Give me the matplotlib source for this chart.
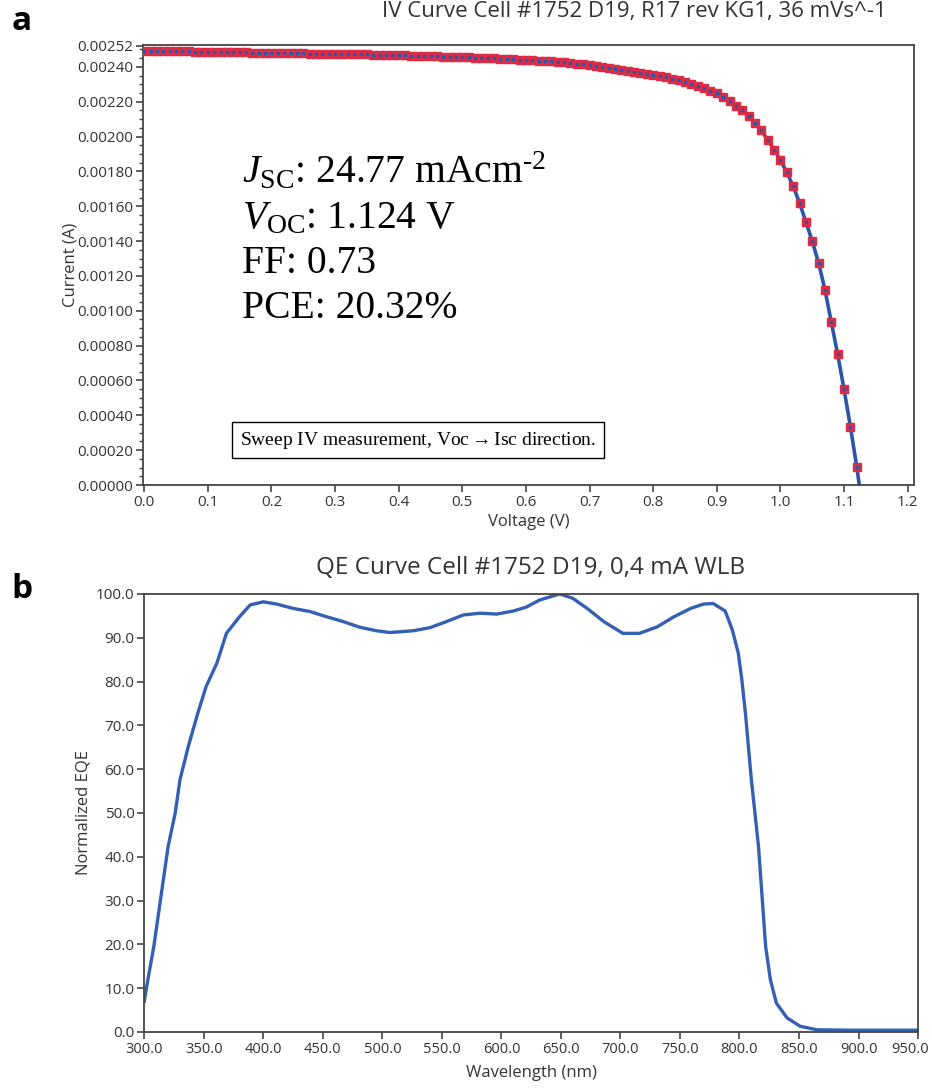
import numpy as np
import matplotlib
matplotlib.use("Agg")
import matplotlib.pyplot as plt
import matplotlib.transforms as mtransforms
from matplotlib.ticker import FixedLocator, MultipleLocator, FormatStrFormatter

# IV sweep, 0.01 V steps (A)
voltage = np.round(np.arange(0, 1.121, 0.01), 2)
current_mA = [
    2.490, 2.490, 2.490, 2.489, 2.489, 2.488, 2.488, 2.490, 2.487, 2.486,
    2.486, 2.485, 2.485, 2.484, 2.484, 2.483, 2.483, 2.482, 2.482, 2.481,
    2.481, 2.480, 2.480, 2.479, 2.477, 2.477, 2.476, 2.476, 2.475, 2.475,
    2.474, 2.473, 2.473, 2.472, 2.471, 2.471, 2.470, 2.469, 2.468, 2.467,
    2.466, 2.465, 2.464, 2.463, 2.462, 2.461, 2.460, 2.459, 2.458, 2.457,
    2.455, 2.454, 2.453, 2.452, 2.450, 2.449, 2.447, 2.446, 2.444, 2.442,
    2.440, 2.438, 2.436, 2.433, 2.431, 2.428, 2.425, 2.422, 2.418, 2.414,
    2.410, 2.405, 2.400, 2.395, 2.389, 2.383, 2.378, 2.372, 2.366, 2.360,
    2.353, 2.347, 2.340, 2.332, 2.323, 2.313, 2.302, 2.290, 2.277, 2.263,
    2.248, 2.228, 2.205, 2.178, 2.150, 2.115, 2.080, 2.035, 1.980, 1.925,
    1.865, 1.795, 1.715, 1.620, 1.510, 1.400, 1.275, 1.120, 0.935, 0.750,
    0.550, 0.335, 0.105,
]
current = np.array(current_mA) / 1000.0
voc = 1.124

# QE curve
wavelength = [300, 303, 308, 312, 316, 320, 326, 330, 337, 345, 352, 361, 369, 380,
              389, 400, 411, 425, 439, 453, 467, 481, 495, 506, 512, 526, 540, 554,
              568, 582, 596, 610, 621, 632, 649, 660, 672, 686, 702, 716, 731, 745,
              759, 770, 778, 788, 794, 799, 802, 805, 807.5, 810, 813, 816, 818, 820,
              822, 826, 831, 840, 851, 865, 893, 950]
eqe = [7.0, 11.9, 19.5, 27.1, 34.7, 42.3, 50.0, 57.6, 65.2, 72.8, 78.9, 84.2, 91.0, 94.8,
       97.5, 98.2, 97.7, 96.7, 96.0, 94.8, 93.7, 92.4, 91.6, 91.2, 91.3, 91.6, 92.3, 93.7,
       95.2, 95.6, 95.4, 96.1, 97.0, 98.6, 100.0, 99.0, 96.7, 93.7, 91.0, 91.0, 92.5, 94.8,
       96.7, 97.7, 97.8, 96.1, 91.8, 86.5, 80.4, 72.8, 65.2, 57.6, 50.0, 42.3, 34.7, 27.1,
       19.5, 11.9, 6.6, 3.2, 1.3, 0.5, 0.4, 0.4]

iv_ticks = [0.0, 0.0002, 0.0004, 0.0006, 0.0008, 0.0010, 0.0012, 0.0014, 0.0016,
            0.0018, 0.0020, 0.0022, 0.0024, 0.00252]

plt.rcParams['font.family'] = ['Open Sans', 'DejaVu Sans']
plt.rcParams['mathtext.fontset'] = 'custom'
plt.rcParams['mathtext.rm'] = 'Liberation Serif'
plt.rcParams['mathtext.it'] = 'Liberation Serif:italic'

fig = plt.figure(figsize=(9.32, 10.88), dpi=100)
ax1 = fig.add_axes([0.1534, 0.5542, 0.8273, 0.4044])
ax2 = fig.add_axes([0.1548, 0.0515, 0.8302, 0.4026])

line_blue = '#2b55a8'
tick_col = '#333333'

# ---- panel a
ax1.plot(list(voltage) + [voc], list(current) + [0.0], color=line_blue, lw=2.6, zorder=2)
ax1.plot(voltage, current, ls='none', marker='s', ms=5.8, mfc='#dc2c45', mec='#dc2c45', zorder=3)
ax1.plot(voltage, current, ls='none', marker='s', ms=1.6, mfc=line_blue, mec=line_blue, zorder=4)
ax1.set_xlim(-0.002, 1.21)
ax1.set_ylim(0, 0.002525)
ax1.xaxis.set_major_locator(MultipleLocator(0.1))
ax1.xaxis.set_major_formatter(FormatStrFormatter('%.1f'))
ax1.yaxis.set_major_locator(FixedLocator(iv_ticks))
ax1.yaxis.set_minor_locator(MultipleLocator(0.00005))
ax1.yaxis.set_major_formatter(FormatStrFormatter('%.5f'))
ax1.set_xlabel('Voltage (V)', fontsize=12, color=tick_col)
ax1.set_ylabel('Current (A)', fontsize=12, color=tick_col)
ax1.xaxis.set_label_coords(0.5, -0.066)
ax1.yaxis.set_label_coords(-0.083, 0.5)

tx = 0.128
big = dict(transform=ax1.transAxes, fontsize=28.5, family='Liberation Serif', va='baseline')
ax1.text(tx, 0.686, r'$J_{\mathrm{SC}}$: 24.77 mAcm$^{\text{-2}}$', **big)
ax1.text(tx, 0.584, r'$V_{\mathrm{OC}}$: 1.124 V', **big)
ax1.text(tx, 0.482, 'FF: 0.73', **big)
ax1.text(tx, 0.380, 'PCE: 20.32%', **big)
ax1.text(0.126, 0.102, r'Sweep IV measurement, Voc$\rightarrow$Isc direction.', transform=ax1.transAxes,
         fontsize=14, family=['Liberation Serif', 'DejaVu Serif'], va='center',
         bbox=dict(boxstyle='square,pad=0.4', fc='white', ec='black', lw=1.0))

# ---- panel b
ax2.plot(wavelength, eqe, color='#3460b4', lw=2.4)
ax2.set_xlim(300, 950)
ax2.set_ylim(0, 100)
ax2.xaxis.set_major_locator(MultipleLocator(50))
ax2.yaxis.set_major_locator(MultipleLocator(10))
ax2.xaxis.set_major_formatter(FormatStrFormatter('%.1f'))
ax2.yaxis.set_major_formatter(FormatStrFormatter('%.1f'))
ax2.set_xlabel('Wavelength (nm)', fontsize=12, color=tick_col)
ax2.set_ylabel('Normalized EQE', fontsize=12, color=tick_col)
ax2.xaxis.set_label_coords(0.5, -0.075)
ax2.yaxis.set_label_coords(-0.0676, 0.5)

for ax in (ax1, ax2):
    for s in ax.spines.values():
        s.set_color('#444444')
        s.set_linewidth(1.3)
    ax.tick_params(which='major', direction='out', length=5, width=1.2, color='#444444',
                   labelsize=11, labelcolor=tick_col, pad=2)
    ax.tick_params(which='minor', direction='out', length=3, width=1.0, color='#444444')
ax2.tick_params(axis='x', labelsize=10.5)

fig.text(0.681, 0.989, 'IV Curve Cell #1752 D19, R17 rev KG1, 36 mVs^-1', ha='center', va='center',
         fontsize=16, color=tick_col)
fig.text(0.569, 0.478, 'QE Curve Cell #1752 D19, 0,4 mA WLB', ha='center', va='center',
         fontsize=17.5, color=tick_col)
fig.text(0.0236, 0.980, 'a', ha='center', va='center', fontsize=24, fontweight='bold')
fig.text(0.0236, 0.458, 'b', ha='center', va='center', fontsize=24, fontweight='bold')

# nudge the last wavelength label so it stays inside the figure
fig.canvas.draw()
last = [t for t in ax2.xaxis.get_major_ticks() if abs(t.get_loc() - 950) < 1e-6][0]
shift = mtransforms.ScaledTranslation(-6 / 72, 0, fig.dpi_scale_trans)
last.label1.set_transform(last.label1.get_transform() + shift)

fig.savefig('out.png', dpi=100)
